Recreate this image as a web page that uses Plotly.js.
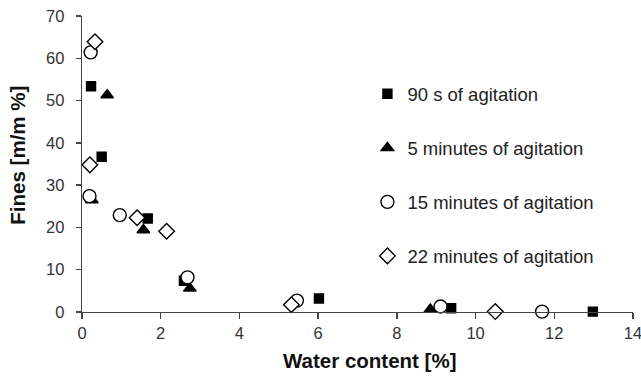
<!DOCTYPE html>
<html>
<head>
<meta charset="utf-8">
<script src="https://cdn.plot.ly/plotly-3.0.1.min.js"></script>
<style>html,body{margin:0;padding:0;background:#fff}#chart{width:641px;height:386px}</style>
</head>
<body>
<div id="chart"></div>
<script>
var seriesNames = ["90 s of agitation", "5 minutes of agitation", "15 minutes of agitation", "22 minutes of agitation"];
var x90s = [0.23, 0.50, 1.67, 2.59, 6.02, 9.38, 12.98];
var y90s = [53.4, 36.7, 22.1, 7.4, 3.2, 0.9, 0.1];
var x5min = [0.64, 0.25, 1.56, 2.74, 8.85];
var y5min = [51.3, 26.5, 19.4, 5.6, 0.6];
var x15min = [0.22, 0.19, 0.96, 2.68, 5.46, 9.11, 11.69];
var y15min = [61.4, 27.4, 22.9, 8.2, 2.7, 1.3, 0.1];
var x22min = [0.33, 0.20, 1.40, 2.15, 5.32, 10.50];
var y22min = [63.9, 34.8, 22.3, 19.1, 1.7, 0.1];
var xTicks = [0, 2, 4, 6, 8, 10, 12, 14];
var yTicks = [0, 10, 20, 30, 40, 50, 60, 70];
var xTitle = 'Water content [%]';
var yTitle = 'Fines [m/m %]';

function tr(x, y, name, sym, size, fill, group) {
  return {
    x: x, y: y, name: name, type: 'scatter', mode: 'markers', legendgroup: group,
    cliponaxis: false,
    marker: {symbol: sym, size: size, color: fill, line: {color: '#000000', width: 1.4}}
  };
}
var data = [
  tr(x90s, y90s, seriesNames[0], 'square', 9, '#000000', 'a'),
  tr(x5min, y5min, seriesNames[1], 'triangle-up', 11, '#000000', 'b'),
  tr(x15min, y15min, seriesNames[2], 'circle', 13, '#ffffff', 'c'),
  tr(x22min, y22min, seriesNames[3], 'diamond', 12, '#ffffff', 'd')
];
var fam = 'Liberation Sans, Arial, sans-serif';
var layout = {
  width: 641, height: 386,
  margin: {l: 82, r: 7.5, t: 16, b: 74},
  paper_bgcolor: '#fff', plot_bgcolor: '#fff',
  font: {family: fam, color: '#222'},
  showlegend: true,
  legend: {x: 0.518, y: 0.80, xanchor: 'left', yanchor: 'top', traceorder: 'grouped',
           tracegroupgap: 27, font: {size: 18.5, color: '#222', family: fam},
           bgcolor: 'rgba(0,0,0,0)', itemwidth: 30},
  xaxis: {range: [0, 14], tickvals: xTicks, ticktext: xTicks.map(String),
          showgrid: false, zeroline: false, showline: true, linecolor: '#444', linewidth: 1.3,
          ticks: 'outside', ticklen: 6, tickcolor: '#444', tickwidth: 1.3,
          ticklabeloverflow: 'allow',
          tickfont: {size: 16.5, color: '#333'}},
  yaxis: {range: [0, 70], tickvals: yTicks, ticktext: yTicks.map(String),
          showgrid: false, zeroline: false, showline: true, linecolor: '#444', linewidth: 1.3,
          ticks: 'outside', ticklen: 5, tickcolor: '#444', tickwidth: 1.3,
          ticklabelstandoff: 8, ticklabeloverflow: 'allow',
          tickfont: {size: 16.5, color: '#333'}},
  annotations: [
    {text: '<b>' + xTitle + '</b>', xref: 'paper', yref: 'paper', x: 0.522, y: -0.163,
     xanchor: 'center', yanchor: 'middle', showarrow: false,
     font: {size: 20.5, color: '#111', family: fam}},
    {text: '<b>' + yTitle + '</b>', xref: 'paper', yref: 'paper', x: -0.117, y: 0.53,
     xanchor: 'center', yanchor: 'middle', showarrow: false, textangle: -90,
     font: {size: 20.5, color: '#111', family: fam}}
  ]
};
Plotly.newPlot('chart', data, layout, {staticPlot: true, displayModeBar: false});
</script>
</body>
</html>
